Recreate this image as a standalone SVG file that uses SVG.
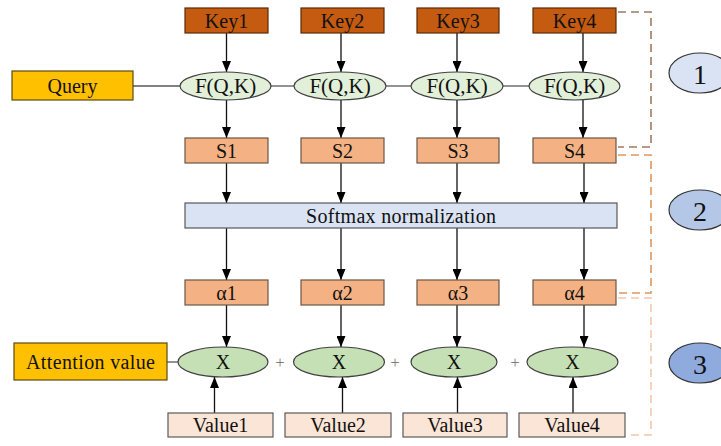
<svg xmlns="http://www.w3.org/2000/svg" width="721" height="446" viewBox="0 0 721 446">
<defs>
<marker id="ah" viewBox="0 0 10 10" refX="10" refY="5" markerWidth="11" markerHeight="9" markerUnits="userSpaceOnUse" orient="auto" preserveAspectRatio="none">
<path d="M0,0 L10,5 L0,10 Z" fill="#000"/>
</marker>
<style>
text{font-family:"Liberation Serif","Times New Roman",serif;fill:#111;text-anchor:middle;dominant-baseline:central}
.key{fill:#C55A11;stroke:#5a2a08;stroke-width:1.2}
.s{fill:#F4B183;stroke:#6b5546;stroke-width:1.2}
.val{fill:#FBE5D6;stroke:#5a5a5a;stroke-width:1.2}
.fq{fill:#E2F0D9;stroke:#404040;stroke-width:1.2}
.x{fill:#C5E0B4;stroke:#404040;stroke-width:1.2}
.q{fill:#FFC000;stroke:#5a4a10;stroke-width:1.2}
.sm{fill:#DAE3F3;stroke:#595959;stroke-width:1.2}
.arr{stroke:#111;stroke-width:1.3;fill:none;marker-end:url(#ah)}
.ln{stroke:#595959;stroke-width:1.3;fill:none}
.t20{font-size:20px}
.t21{font-size:21px}
.num{font-size:28px}
.plus{font-size:16px;fill:#777}
</style>
</defs>
<g id="connectors">
<line class="ln" x1="133" y1="86" x2="180" y2="86"/>
<line class="ln" x1="271" y1="86" x2="294" y2="86"/>
<line class="ln" x1="386" y1="86" x2="411" y2="86"/>
<line class="ln" x1="503" y1="86" x2="529" y2="86"/>
<line class="ln" x1="167" y1="362" x2="178" y2="362"/>
<line class="arr" x1="226.5" y1="33" x2="226.5" y2="72"/>
<line class="arr" x1="341" y1="33" x2="341" y2="72"/>
<line class="arr" x1="457" y1="33" x2="457" y2="72"/>
<line class="arr" x1="583" y1="33" x2="583" y2="72"/>
<line class="arr" x1="226.5" y1="100" x2="226.5" y2="138"/>
<line class="arr" x1="341" y1="100" x2="341" y2="138"/>
<line class="arr" x1="457" y1="100" x2="457" y2="138"/>
<line class="arr" x1="583" y1="100" x2="583" y2="138"/>
<line class="arr" x1="226.5" y1="163" x2="226.5" y2="203"/>
<line class="arr" x1="341" y1="163" x2="341" y2="203"/>
<line class="arr" x1="457" y1="163" x2="457" y2="203"/>
<line class="arr" x1="584" y1="163" x2="584" y2="203"/>
<line class="arr" x1="226.5" y1="228" x2="226.5" y2="280"/>
<line class="arr" x1="341" y1="228" x2="341" y2="280"/>
<line class="arr" x1="457" y1="228" x2="457" y2="280"/>
<line class="arr" x1="584" y1="228" x2="584" y2="280"/>
<line class="arr" x1="226.5" y1="305" x2="226.5" y2="347"/>
<line class="arr" x1="341" y1="305" x2="341" y2="347"/>
<line class="arr" x1="457" y1="305" x2="457" y2="347"/>
<line class="arr" x1="584" y1="305" x2="584" y2="347"/>
<line class="arr" x1="214.5" y1="413" x2="214.5" y2="377"/>
<line class="arr" x1="342.5" y1="413" x2="342.5" y2="377"/>
<line class="arr" x1="457.5" y1="413" x2="457.5" y2="377"/>
<line class="arr" x1="573" y1="413" x2="573" y2="377"/>
<polyline points="618,12 651,12 651,147 618,147" fill="none" stroke="#9E7B62" stroke-width="1.6" stroke-dasharray="8,5"/>
<polyline points="618,155 651,155 651,293 618,293" fill="none" stroke="#E0965A" stroke-width="1.6" stroke-dasharray="8,5"/>
<polyline points="618,298 651,298 651,435 626,435" fill="none" stroke="#F2C8AE" stroke-width="1.6" stroke-dasharray="8,5"/>
</g>
<g id="key1"><rect class="key" x="185" y="8" width="83" height="25"/><text class="t20" x="226.5" y="20.5">Key1</text></g>
<g id="key2"><rect class="key" x="301" y="8" width="83" height="25"/><text class="t20" x="342.5" y="20.5">Key2</text></g>
<g id="key3"><rect class="key" x="417" y="8" width="82" height="25"/><text class="t20" x="458" y="20.5">Key3</text></g>
<g id="key4"><rect class="key" x="533" y="8" width="83" height="25"/><text class="t20" x="574.5" y="20.5">Key4</text></g>
<g id="query"><rect class="q" x="12" y="71" width="121" height="29"/><text class="t20" x="72.5" y="85.5">Query</text></g>
<g id="f1"><ellipse class="fq" cx="225.5" cy="86" rx="45.5" ry="14"/><text class="t21" x="225.5" y="86">F(Q,K)</text></g>
<g id="f2"><ellipse class="fq" cx="340" cy="86" rx="46" ry="14"/><text class="t21" x="340" y="86">F(Q,K)</text></g>
<g id="f3"><ellipse class="fq" cx="457" cy="86" rx="46" ry="14"/><text class="t21" x="457" y="86">F(Q,K)</text></g>
<g id="f4"><ellipse class="fq" cx="574.5" cy="86" rx="45.5" ry="14"/><text class="t21" x="574.5" y="86">F(Q,K)</text></g>
<g id="s1"><rect class="s" x="185" y="138" width="83" height="25"/><text class="t20" x="226.5" y="150.5">S1</text></g>
<g id="s2"><rect class="s" x="301" y="138" width="83" height="25"/><text class="t20" x="342.5" y="150.5">S2</text></g>
<g id="s3"><rect class="s" x="417" y="138" width="82" height="25"/><text class="t20" x="458" y="150.5">S3</text></g>
<g id="s4"><rect class="s" x="533" y="138" width="83" height="25"/><text class="t20" x="574.5" y="150.5">S4</text></g>
<g id="softmax"><rect class="sm" x="185" y="203" width="432" height="25"/><text class="t20" x="401" y="215.5" textLength="190" lengthAdjust="spacing">Softmax normalization</text></g>
<g id="a1"><rect class="s" x="185" y="280" width="83" height="25"/><text class="t20" x="226.5" y="292.5">α1</text></g>
<g id="a2"><rect class="s" x="301" y="280" width="83" height="25"/><text class="t20" x="342.5" y="292.5">α2</text></g>
<g id="a3"><rect class="s" x="417" y="280" width="82" height="25"/><text class="t20" x="458" y="292.5">α3</text></g>
<g id="a4"><rect class="s" x="533" y="280" width="83" height="25"/><text class="t20" x="574.5" y="292.5">α4</text></g>
<g id="attention"><rect class="q" x="14" y="343" width="153" height="37"/><text class="t20" x="90.5" y="361.5" textLength="129" lengthAdjust="spacing">Attention value</text></g>
<g id="x1"><ellipse class="x" cx="223" cy="362" rx="45" ry="15"/><text class="t20" x="223" y="362">X</text></g>
<g id="x2"><ellipse class="x" cx="339" cy="362" rx="45.5" ry="15"/><text class="t20" x="339" y="362">X</text></g>
<g id="x3"><ellipse class="x" cx="454" cy="362" rx="43" ry="15"/><text class="t20" x="454" y="362">X</text></g>
<g id="x4"><ellipse class="x" cx="572.5" cy="362" rx="45.5" ry="15"/><text class="t20" x="572.5" y="362">X</text></g>
<g id="plus"><text class="plus" x="280" y="362">+</text><text class="plus" x="395" y="362">+</text><text class="plus" x="515" y="362">+</text></g>
<g id="v1"><rect class="val" x="168" y="413" width="105" height="24"/><text class="t20" x="220.5" y="425">Value1</text></g>
<g id="v2"><rect class="val" x="285" y="413" width="106" height="24"/><text class="t20" x="338" y="425">Value2</text></g>
<g id="v3"><rect class="val" x="403" y="413" width="104" height="24"/><text class="t20" x="455" y="425">Value3</text></g>
<g id="v4"><rect class="val" x="519" y="413" width="106" height="24"/><text class="t20" x="572" y="425">Value4</text></g>
<g id="c1"><ellipse cx="700" cy="73" rx="31" ry="20" fill="#DAE3F3" stroke="#333" stroke-width="1.2"/><text class="num" x="700" y="74">1</text></g>
<g id="c2"><ellipse cx="700" cy="210" rx="31" ry="20" fill="#B4C7E7" stroke="#333" stroke-width="1.2"/><text class="num" x="700" y="211">2</text></g>
<g id="c3"><ellipse cx="700" cy="363" rx="31" ry="20" fill="#8FAADC" stroke="#333" stroke-width="1.2"/><text class="num" x="700" y="364">3</text></g>
</svg>
